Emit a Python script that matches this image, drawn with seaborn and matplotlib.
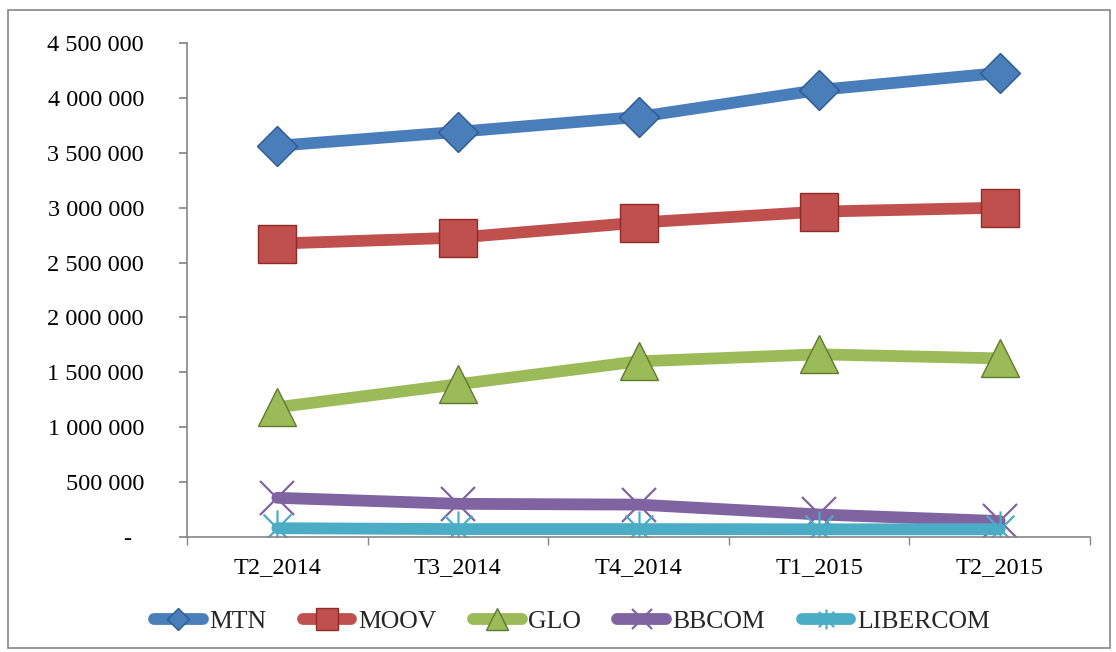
import matplotlib
matplotlib.use("Agg")
import matplotlib.pyplot as plt
import seaborn as sns
import pandas as pd
from matplotlib.path import Path
from matplotlib.patches import Rectangle
from matplotlib.ticker import FuncFormatter

periods = ["T2_2014", "T3_2014", "T4_2014", "T1_2015", "T2_2015"]
mtn = [3564000, 3691000, 3827000, 4073000, 4227000]
moov = [2673000, 2727000, 2864000, 2964000, 3000000]
glo = [1182000, 1391000, 1600000, 1664000, 1627000]
bbcom = [357000, 302000, 295000, 205000, 145000]
libercom = [80000, 72000, 72000, 70000, 70000]

series = ["MTN", "MOOV", "GLO", "BBCOM", "LIBERCOM"]
values = [mtn, moov, glo, bbcom, libercom]
colors = ["#4A7EBB", "#C0504D", "#9BBB59", "#8064A2", "#4BACC6"]
edges = ["#2C5A8F", "#8C2B28", "#5F7A2E", "#8064A2", "#4BACC6"]

# Excel "star" marker: an x with a vertical bar through it
star = Path([(-1, -1), (1, 1), (-1, 1), (1, -1), (0, -1.3), (0, 1.3)],
            [Path.MOVETO, Path.LINETO, Path.MOVETO, Path.LINETO, Path.MOVETO, Path.LINETO])
markers = ["D", "s", "^", "x", star]
msizes = [20, 27.5, 28, 25, 26]

df = pd.DataFrame({
    "period": periods * len(series),
    "operator": [s for s in series for _ in periods],
    "value": [v for vals in values for v in vals],
})

sns.set_theme(style="white")
plt.rcParams["font.family"] = ["Liberation Serif", "DejaVu Serif"]

fig = plt.figure(figsize=(11.16, 6.52), dpi=100)
ax = fig.add_axes([0.1676, 0.1764, 0.8091, 0.7576])

for name, col, ec, mk, ms in zip(series, colors, edges, markers, msizes):
    sub = df[df["operator"] == name]
    filled = mk not in ("x",) and not isinstance(mk, Path)
    sns.lineplot(data=sub, x="period", y="value", ax=ax, color=col, lw=8.5,
                 marker=mk, markersize=ms,
                 markerfacecolor=col if filled else "none",
                 markeredgecolor=ec, markeredgewidth=1.0 if filled else 1.6,
                 sort=False, label=name, solid_capstyle="round")

ax.set_xlim(-0.5, 4.5)
ax.set_ylim(0, 4500000)
ax.set_yticks(range(0, 4500001, 500000))
ax.yaxis.set_major_formatter(FuncFormatter(
    lambda v, p: "-\u2007" if v == 0 else f"{int(v):,}".replace(",", " ")))
ax.set_xticks(range(len(periods)))
ax.set_xticklabels(periods)
ax.set_xticks([i - 0.5 for i in range(len(periods) + 1)], minor=True)
ax.set_xlabel("")
ax.set_ylabel("")

for s in ["top", "right"]:
    ax.spines[s].set_visible(False)
for s in ["left", "bottom"]:
    ax.spines[s].set_color("#868686")
    ax.spines[s].set_linewidth(1.2)

ax.tick_params(axis="y", which="major", left=True, length=6, color="#868686",
               labelsize=17.5, pad=25, labelcolor="black")
ax.tick_params(axis="x", which="major", bottom=False, labelsize=17.5, pad=8.5,
               labelcolor="black")
ax.tick_params(axis="x", which="minor", bottom=True, length=6, color="#868686")
for lab in ax.get_yticklabels():
    lab.set_horizontalalignment("right")

handles, labels = ax.get_legend_handles_labels()
ax.legend(handles, labels, loc="center", bbox_to_anchor=(0.426, -0.172),
          ncol=5, frameon=False, fontsize=18.5, handlelength=1.9,
          handletextpad=0.25, columnspacing=1.42, markerscale=0.55)

fig.patches.append(Rectangle((0.007, 0.006), 0.988, 0.978, transform=fig.transFigure,
                             fill=False, edgecolor="#868686", lw=1.2))

fig.savefig("out.png", dpi=100)
